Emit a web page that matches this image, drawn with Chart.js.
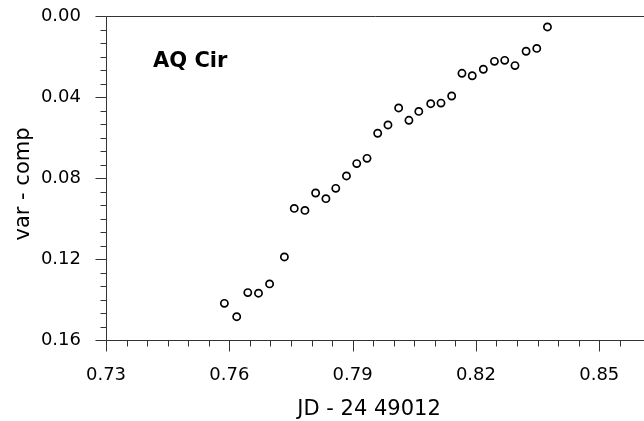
<!DOCTYPE html>
<html><head><meta charset="utf-8">
<script src="https://cdn.jsdelivr.net/npm/chart.js@4/dist/chart.umd.min.js"></script>
<style>html,body{margin:0;padding:0;background:#fff;overflow:hidden}#wrap{width:644px;height:421px;position:relative}</style>
</head><body><div id="wrap"><canvas id="c"></canvas></div>
<script>
// Data
const jd = [0.7588,0.7618,0.7645,0.7671,0.7698,0.7734,0.7758,0.7784,0.7810,0.7835,0.7859,0.7885,0.7910,0.7935,0.7961,0.7986,0.8012,0.8037,0.8061,0.8090,0.8115,0.8141,0.8166,0.8191,0.8218,0.8245,0.8270,0.8295,0.8322,0.8348,0.8374];
const varComp = [0.1419,0.1485,0.1366,0.1369,0.1323,0.1190,0.0950,0.0960,0.0874,0.0902,0.0851,0.0790,0.0729,0.0703,0.0579,0.0538,0.0454,0.0515,0.0471,0.0433,0.0430,0.0395,0.0283,0.0295,0.0263,0.0224,0.0219,0.0245,0.0174,0.0160,0.0054];
const xTickValues = [0.73,0.76,0.79,0.82,0.85];
const yTickValues = [0.00,0.04,0.08,0.12,0.16];
const starName = 'AQ Cir';
const xTitle = 'JD - 24 49012';
const yTitle = 'var - comp';

const FONT = '"DejaVu Sans", sans-serif';
const MINOR_PER_MAJOR = 6;

const framePlugin = {
  id: 'frame',
  afterDraw(chart) {
    const {ctx, chartArea: a, scales: {x, y}} = chart;
    ctx.save();
    ctx.strokeStyle = '#333';
    ctx.lineWidth = 1;
    const L = Math.round(a.left) + 0.5, T = Math.round(a.top) + 0.5, B = Math.round(a.bottom) + 0.5;
    const R = chart.width + 2;
    ctx.beginPath();
    ctx.moveTo(L, T); ctx.lineTo(L, B);
    ctx.moveTo(L, T); ctx.lineTo(R, T);
    ctx.moveTo(L, B); ctx.lineTo(R, B);
    const xStep = (xTickValues[1] - xTickValues[0]) / MINOR_PER_MAJOR;
    for (let k = 0; ; k++) {
      const v = xTickValues[0] + k * xStep;
      if (v > x.max + 1e-9) break;
      const px = Math.round(x.getPixelForValue(v)) + 0.5;
      const len = (k % MINOR_PER_MAJOR === 0) ? 11 : 6;
      ctx.moveTo(px, B); ctx.lineTo(px, B + len);
    }
    const yStep = (yTickValues[1] - yTickValues[0]) / MINOR_PER_MAJOR;
    for (let k = 0; ; k++) {
      const v = yTickValues[0] + k * yStep;
      if (v > y.max + 1e-9) break;
      const py = Math.round(y.getPixelForValue(v)) + 0.5;
      const len = (k % MINOR_PER_MAJOR === 0) ? 11 : 6;
      ctx.moveTo(L, py); ctx.lineTo(L - len, py);
    }
    ctx.stroke();

    ctx.fillStyle = '#000';
    ctx.font = '21px ' + FONT;
    ctx.textAlign = 'center';
    ctx.textBaseline = 'alphabetic';
    ctx.fillText(xTitle, 369, 415);
    ctx.save();
    ctx.translate(29, 184);
    ctx.rotate(-Math.PI / 2);
    ctx.fillText(yTitle, 0, 0);
    ctx.restore();

    ctx.font = 'bold 21px ' + FONT;
    ctx.textAlign = 'left';
    ctx.fillText(starName, 153, 66.5);
    ctx.restore();
  }
};

new Chart(document.getElementById('c'), {
  type: 'scatter',
  data: {
    datasets: [{
      data: jd.map((v, i) => ({x: v, y: varComp[i]})),
      pointStyle: 'circle',
      pointRadius: 3.6,
      pointBorderWidth: 1.7,
      borderColor: '#000',
      backgroundColor: '#fff',
      pointHoverRadius: 3.6
    }]
  },
  options: {
    responsive: true,
    maintainAspectRatio: false,
    devicePixelRatio: 1,
    animation: false,
    events: [],
    layout: {padding: {top: 16, left: 0, right: 0, bottom: 0}},
    plugins: {legend: {display: false}, tooltip: {enabled: false}},
    scales: {
      x: {
        type: 'linear',
        min: 0.73,
        max: 0.8596,
        afterBuildTicks: s => { s.ticks = xTickValues.map(v => ({value: v})); },
        afterFit: s => { s.height = 81; s.paddingLeft = 0; s.paddingRight = 0; },
        grid: {display: false, drawTicks: false},
        border: {display: false},
        ticks: {
          padding: 25,
          color: '#000',
          font: {family: FONT, size: 18},
          maxRotation: 0,
          autoSkip: false,
          callback: v => Number(v).toFixed(2)
        }
      },
      y: {
        type: 'linear',
        reverse: true,
        min: 0,
        max: 0.16,
        afterBuildTicks: s => { s.ticks = yTickValues.map(v => ({value: v})); },
        afterFit: s => { s.width = 106; s.paddingTop = 0; s.paddingBottom = 0; },
        grid: {display: false, drawTicks: false},
        border: {display: false},
        ticks: {
          padding: 25,
          color: '#000',
          font: {family: FONT, size: 18},
          autoSkip: false,
          callback: v => Number(v).toFixed(2)
        }
      }
    }
  },
  plugins: [framePlugin]
});
</script>
</body></html>
